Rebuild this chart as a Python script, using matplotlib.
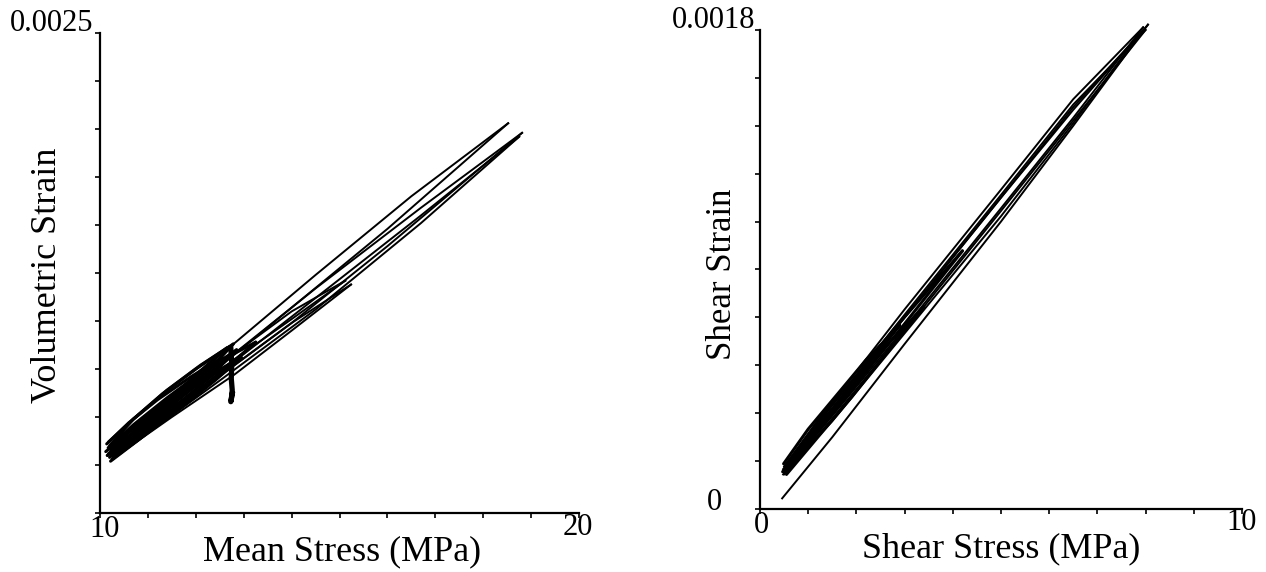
import numpy as np
import matplotlib.pyplot as plt

# ---- left panel : volumetric strain vs mean stress (MPa) ----
# small cycles (dense band near origin)
s1_up_x = [10.20, 10.9, 11.6, 12.3, 12.85]
s1_up_y = [0.00029, 0.00042, 0.00056, 0.00071, 0.00085]
s1_dn_x = [12.85, 12.2, 11.5, 10.8, 10.22]
s1_dn_y = [0.00085, 0.00074, 0.00061, 0.00047, 0.00033]

s2_up_x = [10.15, 10.8, 11.5, 12.2, 12.70]
s2_up_y = [0.00030, 0.00043, 0.00057, 0.00071, 0.00082]
s2_dn_x = [12.70, 12.1, 11.4, 10.7, 10.17]
s2_dn_y = [0.00082, 0.00073, 0.00060, 0.00046, 0.00034]

s3_up_x = [10.25, 10.9, 11.7, 12.4, 12.95]
s3_up_y = [0.00028, 0.00040, 0.00055, 0.00069, 0.00081]
s3_dn_x = [12.95, 12.3, 11.6, 10.9, 10.28]
s3_dn_y = [0.00081, 0.00072, 0.00059, 0.00045, 0.00031]

s4_up_x = [10.18, 10.9, 11.6, 12.3, 12.78]
s4_up_y = [0.00031, 0.00045, 0.00060, 0.00075, 0.00088]
s4_dn_x = [12.78, 12.1, 11.4, 10.7, 10.20]
s4_dn_y = [0.00088, 0.00077, 0.00064, 0.00049, 0.00035]

s5_up_x = [10.12, 10.7, 11.3, 11.9, 12.55]
s5_up_y = [0.00032, 0.00044, 0.00056, 0.00068, 0.00081]
s5_dn_x = [12.55, 11.9, 11.2, 10.6, 10.14]
s5_dn_y = [0.00081, 0.00071, 0.00059, 0.00047, 0.00036]

s6_up_x = [10.22, 10.8, 11.5, 12.2, 12.90]
s6_up_y = [0.00027, 0.00038, 0.00052, 0.00066, 0.00080]
s6_dn_x = [12.90, 12.2, 11.5, 10.8, 10.24]
s6_dn_y = [0.00080, 0.00070, 0.00057, 0.00043, 0.00030]

s7_up_x = [10.16, 10.8, 11.4, 12.0, 12.65]
s7_up_y = [0.00030, 0.00044, 0.00058, 0.00072, 0.00086]
s7_dn_x = [12.65, 12.0, 11.3, 10.7, 10.18]
s7_dn_y = [0.00086, 0.00075, 0.00062, 0.00049, 0.00037]

s8_up_x = [10.28, 11.0, 11.8, 12.6, 13.25]
s8_up_y = [0.00029, 0.00043, 0.00059, 0.00075, 0.00089]
s8_dn_x = [13.25, 12.5, 11.8, 11.0, 10.30]
s8_dn_y = [0.00089, 0.00079, 0.00065, 0.00049, 0.00033]

# medium cycles
m1_up_x = [10.30, 11.5, 12.8, 14.0, 15.24]
m1_up_y = [0.00029, 0.00050, 0.00072, 0.00095, 0.00119]
m1_dn_x = [15.24, 14.0, 12.8, 11.5, 10.32]
m1_dn_y = [0.00119, 0.00099, 0.00077, 0.00055, 0.00032]

m2_up_x = [10.25, 11.5, 12.8, 14.0, 15.12]
m2_up_y = [0.00031, 0.00055, 0.00080, 0.00101, 0.00121]
m2_dn_x = [15.12, 14.0, 12.8, 11.5, 10.28]
m2_dn_y = [0.00121, 0.00105, 0.00083, 0.00058, 0.00034]

# large cycles
b1_up_x = [10.25, 12.0, 14.0, 16.0, 18.52]
b1_up_y = [0.00030, 0.00066, 0.00107, 0.00148, 0.00203]
b1_dn_x = [18.52, 16.5, 14.5, 12.5, 10.30]
b1_dn_y = [0.00203, 0.00165, 0.00124, 0.00082, 0.00034]

b2_up_x = [10.30, 12.0, 14.0, 16.0, 18.81]
b2_up_y = [0.00031, 0.00062, 0.00099, 0.00139, 0.00198]
b2_dn_x = [18.81, 16.7, 14.5, 12.5, 10.40]
b2_dn_y = [0.00198, 0.00159, 0.00117, 0.00077, 0.00035]

b3_up_x = [10.35, 12.5, 14.5, 16.7, 18.75]
b3_up_y = [0.00030, 0.00069, 0.00106, 0.00151, 0.00196]
b3_dn_x = [18.75, 16.7, 14.5, 12.5, 10.40]
b3_dn_y = [0.00196, 0.00155, 0.00112, 0.00073, 0.00033]

# creep spike
spike_x = [12.73, 12.75, 12.74, 12.76, 12.74, 12.73, 12.76]
spike_y = [0.00086, 0.00078, 0.00070, 0.00064, 0.00059, 0.00058, 0.00062]

# ---- right panel : shear strain vs shear stress (MPa) ----
r0_up_x = [0.46, 1.5, 3.0, 5.0, 6.5, 8.05]
r0_up_y = [0.00004, 0.00027, 0.00062, 0.00108, 0.00144, 0.00182]
r0_dn_x = [8.05, 6.5, 5.0, 3.0, 1.5, 0.50]
r0_dn_y = [0.00182, 0.00150, 0.00117, 0.00072, 0.00037, 0.00015]

r1_up_x = [0.50, 1.5, 3.0, 5.0, 6.5, 8.00]
r1_up_y = [0.00013, 0.00034, 0.00067, 0.00112, 0.00146, 0.00180]
r1_dn_x = [8.00, 6.5, 5.0, 3.0, 1.5, 0.50]
r1_dn_y = [0.00180, 0.00152, 0.00118, 0.00073, 0.00039, 0.00015]

r2_up_x = [0.52, 1.5, 3.0, 5.0, 6.5, 7.95]
r2_up_y = [0.00014, 0.00035, 0.00068, 0.00113, 0.00147, 0.00181]
r2_dn_x = [7.95, 6.5, 5.0, 3.0, 1.5, 0.50]
r2_dn_y = [0.00181, 0.00154, 0.00120, 0.00075, 0.00040, 0.00016]

r3_up_x = [0.48, 1.5, 3.0, 5.0, 6.5, 7.85]
r3_up_y = [0.00013, 0.00033, 0.00066, 0.00110, 0.00145, 0.00178]
r3_dn_x = [7.85, 6.5, 5.0, 3.0, 1.5, 0.48]
r3_dn_y = [0.00178, 0.00151, 0.00117, 0.00072, 0.00038, 0.00015]

r4_up_x = [0.50, 1.2, 2.0, 2.8, 4.2]
r4_up_y = [0.00014, 0.00029, 0.00047, 0.00065, 0.00097]
r4_dn_x = [4.2, 2.8, 2.0, 1.2, 0.52]
r4_dn_y = [0.00097, 0.00068, 0.00050, 0.00033, 0.00016]

r5_up_x = [0.47, 1.0, 1.6, 2.2, 2.9]
r5_up_y = [0.00014, 0.00026, 0.00039, 0.00053, 0.00069]
r5_dn_x = [2.9, 2.2, 1.6, 1.0, 0.49]
r5_dn_y = [0.00069, 0.00056, 0.00043, 0.00030, 0.00017]

r6_up_x = [0.55, 1.2, 1.9, 2.6, 3.4]
r6_up_y = [0.00013, 0.00027, 0.00042, 0.00058, 0.00076]
r6_dn_x = [3.4, 2.6, 1.9, 1.2, 0.55]
r6_dn_y = [0.00076, 0.00061, 0.00046, 0.00031, 0.00016]

plt.rcParams['font.family'] = ['Liberation Serif', 'DejaVu Serif']

fig = plt.figure(figsize=(12.66, 5.72), dpi=100)
axL = fig.add_axes([0.0790, 0.1031, 0.3784, 0.8392])
axR = fig.add_axes([0.6003, 0.1101, 0.3807, 0.8375])

lw = 1.4
left_small = [(s1_up_x, s1_up_y), (s1_dn_x, s1_dn_y), (s2_up_x, s2_up_y), (s2_dn_x, s2_dn_y),
              (s3_up_x, s3_up_y), (s3_dn_x, s3_dn_y), (s4_up_x, s4_up_y), (s4_dn_x, s4_dn_y),
              (s5_up_x, s5_up_y), (s5_dn_x, s5_dn_y), (s6_up_x, s6_up_y), (s6_dn_x, s6_dn_y),
              (s7_up_x, s7_up_y), (s7_dn_x, s7_dn_y), (s8_up_x, s8_up_y), (s8_dn_x, s8_dn_y)]
left_big = [(m1_up_x, m1_up_y), (m1_dn_x, m1_dn_y), (m2_up_x, m2_up_y), (m2_dn_x, m2_dn_y),
            (b1_up_x, b1_up_y), (b1_dn_x, b1_dn_y), (b2_up_x, b2_up_y), (b2_dn_x, b2_dn_y),
            (b3_up_x, b3_up_y), (b3_dn_x, b3_dn_y)]
for px, py in left_small:
    axL.plot(px, py, color='black', lw=2.2, clip_on=False, solid_capstyle='round')
for px, py in left_big:
    axL.plot(px, py, color='black', lw=lw, clip_on=False)
axL.plot(spike_x, spike_y, color='black', lw=3.8, clip_on=False)

right_paths = [(r0_up_x, r0_up_y), (r0_dn_x, r0_dn_y), (r1_up_x, r1_up_y), (r1_dn_x, r1_dn_y),
               (r2_up_x, r2_up_y), (r2_dn_x, r2_dn_y), (r3_up_x, r3_up_y), (r3_dn_x, r3_dn_y)]
right_small = [(r4_up_x, r4_up_y), (r4_dn_x, r4_dn_y), (r5_up_x, r5_up_y), (r5_dn_x, r5_dn_y),
               (r6_up_x, r6_up_y), (r6_dn_x, r6_dn_y)]
for px, py in right_paths:
    axR.plot(px, py, color='black', lw=lw, clip_on=False)
for px, py in right_small:
    axR.plot(px, py, color='black', lw=2.2, clip_on=False, solid_capstyle='round')

axL.set_xlim(10, 20)
axL.set_ylim(0, 0.0025)
axL.set_xticks(np.arange(10, 20.01, 1))
axL.set_yticks(np.arange(0, 0.00251, 0.00025))

axR.set_xlim(0, 10)
axR.set_ylim(0, 0.0018)
axR.set_xticks(np.arange(0, 10.01, 1))
axR.set_yticks(np.arange(0, 0.00181, 0.00018))

for ax in (axL, axR):
    for side in ('top', 'right'):
        ax.spines[side].set_visible(False)
    for side in ('left', 'bottom'):
        ax.spines[side].set_linewidth(1.6)
    ax.tick_params(direction='out', length=3.5, width=1.2, labelleft=False, labelbottom=False)

fs_num = 22
fs_lab = 26

def put(ax, s, xy, off, ha, va='baseline', size=fs_num, **kw):
    ax.annotate(s, xy=xy, xycoords='axes fraction', xytext=off, textcoords='offset points',
                ha=ha, va=va, fontsize=size, **kw)

# left labels
put(axL, '0.0025', (0, 1), (-5, 1.4), 'right')
put(axL, '10', (0, 0), (3.6, -17.3), 'center')
put(axL, '20', (1, 0), (-0.7, -15.8), 'center')
put(axL, 'Mean Stress (MPa)', (0.5, 0), (1.5, -34), 'center', size=fs_lab)
put(axL, 'Volumetric Strain', (0, 0.496), (-32, 0), 'center', size=fs_lab,
    rotation=90, rotation_mode='anchor')

# right labels
put(axR, '0.0018', (0, 1), (-3.6, 1.4), 'right')
put(axR, '0', (0, 0), (-27, -0.7), 'right')
put(axR, '0', (0, 0), (1.4, -17.3), 'center')
put(axR, '10', (1, 0), (0, -15), 'center')
put(axR, 'Shear Stress (MPa)', (0.5, 0), (0, -34.6), 'center', size=fs_lab)
put(axR, 'Shear Strain', (0, 0.489), (-21, 0), 'center', size=25,
    rotation=90, rotation_mode='anchor')

fig.savefig('out.png', dpi=100)
